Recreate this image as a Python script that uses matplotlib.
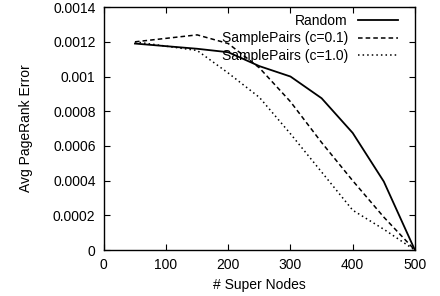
import matplotlib.pyplot as plt

plt.rcParams['font.family'] = ['Liberation Sans', 'DejaVu Sans']

# data
nodes = [50, 150, 200, 250, 300, 350, 400, 450, 500]
err_random = [0.00119, 0.00116, 0.00114, 0.00106, 0.00100, 0.000875, 0.000675, 0.000395, 0.0]
err_c01 = [0.00120, 0.00124, 0.00119, 0.00105, 0.000855, 0.00062, 0.00040, 0.00019, 0.0]
err_c10 = [0.00120, 0.00115, 0.00102, 0.00088, 0.00067, 0.00045, 0.00023, 0.00012, 0.0]

xticks = [0, 100, 200, 300, 400, 500]
yticks = [0, 0.0002, 0.0004, 0.0006, 0.0008, 0.001, 0.0012, 0.0014]
ytick_labels = ["0", "0.0002", "0.0004", "0.0006", "0.0008", "0.001", "0.0012", "0.0014"]

fig = plt.figure(figsize=(4.4, 2.96), dpi=100)
ax = fig.add_axes([0.236, 0.155, 0.707, 0.821])

ax.plot(nodes, err_random, color="black", lw=1.3, ls="-", label="Random")
ax.plot(nodes, err_c01, color="black", lw=1.1, ls=(0, (3, 2)), label="SamplePairs (c=0.1)")
ax.plot(nodes, err_c10, color="black", lw=1.1, ls=(0, (1, 2)), label="SamplePairs (c=1.0)")

ax.set_xlim(0, 500)
ax.set_ylim(0, 0.0014)
ax.set_xticks(xticks)
ax.set_yticks(yticks)
ax.set_yticklabels(ytick_labels)
ax.tick_params(direction="in", top=True, right=True, length=4, width=0.8, labelsize=10, pad=6)
for s in ax.spines.values():
    s.set_linewidth(1.0)

ax.set_xlabel("# Super Nodes", fontsize=10, labelpad=4)
ax.set_ylabel("Avg PageRank Error", fontsize=10, labelpad=14)

ax.legend(loc="upper right", bbox_to_anchor=(0.945, 0.972), frameon=False,
          markerfirst=False, fontsize=10, handlelength=2.9, handletextpad=0.7,
          labelspacing=0.25, borderaxespad=0, borderpad=0)

fig.savefig("out.png", dpi=100)
